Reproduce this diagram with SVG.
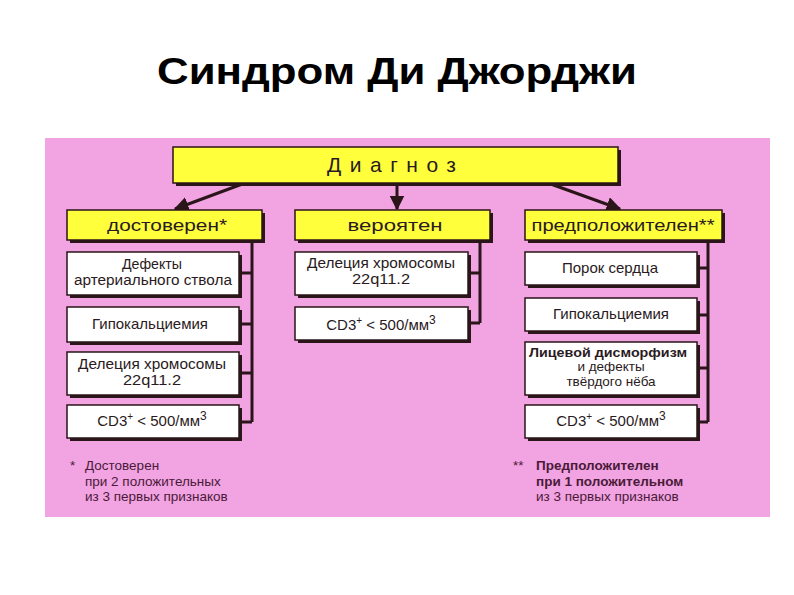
<svg xmlns="http://www.w3.org/2000/svg" width="794" height="595" viewBox="0 0 794 595">
<defs>
<style>
.sh{fill:#2a1518}
.yb{fill:#ffff3c;stroke:#2a1518;stroke-width:1.5}
.wb{fill:#ffffff;stroke:#2a1518;stroke-width:1.5}
.t{font-family:"Liberation Sans",Arial,sans-serif;fill:#2a1a22;text-anchor:middle;font-size:15px}
.m{font-size:14px}
.s{font-size:13.5px}
.h{font-family:"Liberation Sans",Arial,sans-serif;fill:#2a1a22;text-anchor:middle;font-size:17px}
.fn{font-family:"Liberation Sans",Arial,sans-serif;fill:#4a1a38;font-size:13.5px}
.ln{stroke:#2a1518;stroke-width:3;fill:none}
</style>
<marker id="ah" viewBox="0 0 10 10" refX="9" refY="5" markerWidth="5" markerHeight="5" orient="auto" markerUnits="strokeWidth">
<path d="M0,0 L10,5 L0,10 z" fill="#2a1518"/>
</marker>
</defs>
<rect width="794" height="595" fill="#ffffff"/>
<text x="397" y="84" font-family="'Liberation Sans',Arial,sans-serif" font-weight="bold" font-size="36" text-anchor="middle" fill="#000" textLength="480" lengthAdjust="spacingAndGlyphs">Синдром Ди Джорджи</text>
<rect x="45" y="138" width="725" height="379" fill="#f1a3e2"/>

<g id="connectors">
<line class="ln" x1="245" y1="183" x2="175" y2="209" marker-end="url(#ah)"/>
<line class="ln" x1="397" y1="183" x2="397" y2="209" marker-end="url(#ah)"/>
<line class="ln" x1="548" y1="183" x2="620" y2="209" marker-end="url(#ah)"/>
<path class="ln" d="M252,240 V422 M239,273 H252 M239,324 H252 M239,373 H252 M239,422 H252"/>
<path class="ln" d="M480,240 V323 M468,273 H480 M468,323 H480"/>
<path class="ln" d="M708,240 V422 M697,268 H708 M697,315 H708 M697,368 H708 M697,422 H708"/>
</g>

<g id="diagnosis">
<rect class="sh" x="176" y="150" width="445" height="36"/>
<rect class="yb" x="173" y="147" width="445" height="36"/>
<text x="327" y="172" font-family="'Liberation Sans',Arial,sans-serif" font-size="21" fill="#2a1a22" letter-spacing="8.5">Диагноз</text>
</g>

<g id="dostoveren">
<rect class="sh" x="70" y="213" width="195" height="30"/>
<rect class="yb" x="67" y="210" width="195" height="30"/>
<text class="h" x="167" y="231" textLength="120" lengthAdjust="spacingAndGlyphs">достоверен*</text>
</g>
<g id="veroyaten">
<rect class="sh" x="298" y="213" width="195" height="30"/>
<rect class="yb" x="295" y="210" width="195" height="30"/>
<text class="h" x="395" y="231" textLength="95" lengthAdjust="spacingAndGlyphs">вероятен</text>
</g>
<g id="predpolozhitelen">
<rect class="sh" x="528" y="213" width="197" height="30"/>
<rect class="yb" x="525" y="210" width="197" height="30"/>
<text class="h" x="623" y="231" textLength="183" lengthAdjust="spacingAndGlyphs">предположителен**</text>
</g>

<g id="l1">
<rect class="sh" x="70" y="255" width="172" height="43"/>
<rect class="wb" x="67" y="252" width="172" height="43"/>
<text class="t m" x="152" y="269" textLength="60" lengthAdjust="spacingAndGlyphs">Дефекты</text>
<text class="t m" x="153" y="285" textLength="158" lengthAdjust="spacingAndGlyphs">артериального ствола</text>
</g>
<g id="l2">
<rect class="sh" x="70" y="310" width="172" height="35"/>
<rect class="wb" x="67" y="307" width="172" height="35"/>
<text class="t" x="150" y="329" textLength="116" lengthAdjust="spacingAndGlyphs">Гипокальциемия</text>
</g>
<g id="l3">
<rect class="sh" x="70" y="355" width="172" height="43"/>
<rect class="wb" x="67" y="352" width="172" height="43"/>
<text class="t m" x="152" y="369" textLength="148" lengthAdjust="spacingAndGlyphs">Делеция хромосомы</text>
<text class="t m" x="152" y="385" textLength="58" lengthAdjust="spacingAndGlyphs">22q11.2</text>
</g>
<g id="l4">
<rect class="sh" x="70" y="408" width="172" height="33"/>
<rect class="wb" x="67" y="405" width="172" height="33"/>
<text class="t" x="152" y="426">CD3<tspan font-size="10" dy="-6">+</tspan><tspan dy="6"> &lt; 500/мм</tspan><tspan font-size="12" dy="-6">3</tspan></text>
</g>

<g id="m1">
<rect class="sh" x="298" y="255" width="173" height="43"/>
<rect class="wb" x="295" y="252" width="173" height="43"/>
<text class="t m" x="381" y="268" textLength="148" lengthAdjust="spacingAndGlyphs">Делеция хромосомы</text>
<text class="t m" x="381" y="284" textLength="58" lengthAdjust="spacingAndGlyphs">22q11.2</text>
</g>
<g id="m2">
<rect class="sh" x="298" y="310" width="173" height="33"/>
<rect class="wb" x="295" y="307" width="173" height="33"/>
<text class="t" x="381" y="330">CD3<tspan font-size="10" dy="-6">+</tspan><tspan dy="6"> &lt; 500/мм</tspan><tspan font-size="12" dy="-6">3</tspan></text>
</g>

<g id="r1">
<rect class="sh" x="528" y="255" width="172" height="33"/>
<rect class="wb" x="525" y="252" width="172" height="33"/>
<text class="t" x="610" y="273">Порок сердца</text>
</g>
<g id="r2">
<rect class="sh" x="528" y="301" width="172" height="33"/>
<rect class="wb" x="525" y="298" width="172" height="33"/>
<text class="t" x="611" y="319" textLength="116" lengthAdjust="spacingAndGlyphs">Гипокальциемия</text>
</g>
<g id="r3">
<rect class="sh" x="528" y="345" width="172" height="53"/>
<rect class="wb" x="525" y="342" width="172" height="53"/>
<text class="t s" x="608" y="357" font-weight="bold" textLength="158" lengthAdjust="spacingAndGlyphs">Лицевой дисморфизм</text>
<text class="t s" x="611" y="371">и дефекты</text>
<text class="t s" x="611" y="386">твёрдого нёба</text>
</g>
<g id="r4">
<rect class="sh" x="528" y="408" width="172" height="33"/>
<rect class="wb" x="525" y="405" width="172" height="33"/>
<text class="t" x="611" y="426">CD3<tspan font-size="10" dy="-6">+</tspan><tspan dy="6"> &lt; 500/мм</tspan><tspan font-size="12" dy="-6">3</tspan></text>
</g>

<g id="footnote-left">
<text class="fn" x="70" y="470">*</text>
<text class="fn" x="85" y="470">Достоверен</text>
<text class="fn" x="85" y="486">при 2 положительных</text>
<text class="fn" x="85" y="501">из 3 первых признаков</text>
</g>
<g id="footnote-right">
<text class="fn" x="513" y="470">**</text>
<text class="fn" x="536" y="470" font-weight="bold">Предположителен</text>
<text class="fn" x="536" y="486" font-weight="bold">при 1 положительном</text>
<text class="fn" x="536" y="501">из 3 первых признаков</text>
</g>
</svg>
